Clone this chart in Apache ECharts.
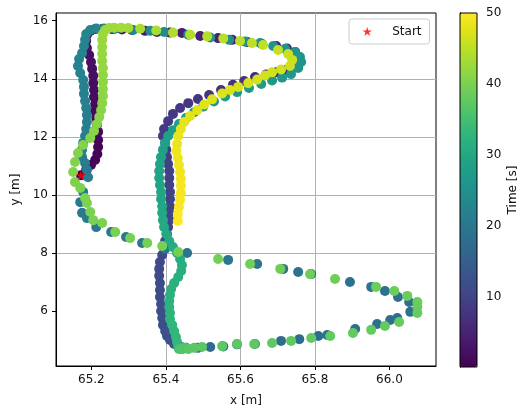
<!DOCTYPE html>
<html>
<head>
<meta charset="utf-8">
<script src="https://cdn.jsdelivr.net/npm/echarts@6/dist/echarts.min.js"></script>
<style>
  html, body { margin: 0; padding: 0; background: #fff; }
  #trajChart { width: 520px; height: 412px; }
</style>
</head>
<body>
<div id="trajChart"></div>
<script>
// trajectory samples (x [m], y [m], time [s])
const posX = [
  // lap 1: left side up
  65.172, 65.186, 65.199, 65.210, 65.216, 65.218, 65.218, 65.218, 65.215, 65.213, 65.210, 65.210,
  65.207, 65.207, 65.205, 65.205, 65.202, 65.199, 65.194, 65.188, 65.186, 65.188, 65.197, 65.210,
  // lap 1: top
  65.229, 65.256, 65.282, 65.309, 65.344, 65.376, 65.411, 65.443, 65.492, 65.540, 65.578, 65.618,
  65.658, 65.696, 65.725, 65.747, 65.758, 65.758,
  // lap 1: diagonal
  65.744, 65.723, 65.696, 65.669, 65.639, 65.610, 65.580, 65.548, 65.516, 65.486, 65.460, 65.438,
  65.419, 65.406, 65.395, 65.392,
  // lap 1: middle down
  65.398, 65.401, 65.403, 65.406, 65.409, 65.409, 65.409, 65.411, 65.411, 65.411, 65.409, 65.409,
  65.406, 65.403, 65.398, 65.395, 65.390, 65.384, 65.382, 65.382, 65.384, 65.384, 65.384, 65.387,
  65.387, 65.390, 65.392, 65.398, 65.403, 65.411, 65.422, 65.435,
  65.441, 65.438, 65.443, 65.441,
  // lap 1: bottom, tip, upper, curve
  65.454, 65.486, 65.519, 65.554, 65.591, 65.639, 65.709, 65.758, 65.809, 65.833, 65.908, 65.967,
  66.002, 66.021, 66.056, 66.053,
  66.023, 65.988, 65.951, 65.894, 65.790, 65.755, 65.715, 65.645, 65.567, 65.457, 65.398,
  65.336, 65.293, 65.253, 65.213, 65.188, 65.175, 65.170, 65.178,
  // lap 2: left side up
  65.191, 65.188, 65.183, 65.175, 65.175, 65.178, 65.183, 65.186, 65.188, 65.188, 65.186, 65.183,
  65.180, 65.180, 65.178, 65.170, 65.164, 65.167, 65.175, 65.180, 65.183, 65.186, 65.197, 65.213,
  // lap 2: top
  65.234, 65.264, 65.312, 65.358, 65.395, 65.460, 65.519, 65.570, 65.613, 65.653, 65.688, 65.720,
  65.747, 65.760, 65.763,
  // lap 2: diagonal
  65.755, 65.736, 65.712, 65.685, 65.656, 65.623, 65.591, 65.559, 65.529, 65.500, 65.476, 65.454,
  65.435, 65.419, 65.406,
  // lap 2: middle down
  65.398, 65.392, 65.387, 65.384, 65.382, 65.382, 65.384, 65.387, 65.387, 65.390, 65.390, 65.392,
  65.395, 65.401, 65.409, 65.419, 65.430, 65.438, 65.443, 65.441, 65.433, 65.422, 65.414, 65.411,
  65.409, 65.409, 65.411, 65.411, 65.417, 65.422, 65.427, 65.430, 65.433,
  65.438, 65.446, 65.435, 65.451, 65.441, 65.460,
  // lap 2: bottom, tip, upper, curve
  65.476, 65.497, 65.551, 65.591, 65.637, 65.685, 65.736, 65.790, 65.841, 65.902, 65.951, 65.988,
  66.026, 66.075, 66.075, 66.075, 66.048, 66.013, 65.964, 65.854, 65.787, 65.707, 65.626, 65.540,
  65.433, 65.390, 65.350, 65.304, 65.264, 65.229, 65.205, 65.197, 65.188, 65.183, 65.170, 65.156,
  65.151, 65.156, 65.164, 65.178,
  // lap 3: left side up
  65.197, 65.207, 65.215, 65.221, 65.226, 65.229, 65.231, 65.231, 65.231, 65.231, 65.231, 65.229,
  65.229, 65.229, 65.229, 65.231, 65.237, 65.248,
  // lap 3: top
  65.261, 65.280, 65.299, 65.331, 65.374, 65.419, 65.465, 65.511, 65.554, 65.599, 65.631, 65.661,
  65.701, 65.728, 65.739,
  // lap 3: diagonal
  65.733, 65.709, 65.685, 65.666, 65.645, 65.621, 65.594, 65.572, 65.551, 65.524, 65.503, 65.484,
  65.465, 65.449, 65.440, 65.433, 65.430,
  // lap 3: middle down
  65.428, 65.432, 65.435, 65.438, 65.440, 65.440, 65.440, 65.438, 65.435, 65.432, 65.432
];
const posY = [
  10.68, 10.86, 11.03, 11.20, 11.41, 11.65, 11.89, 12.17, 12.41, 12.65, 12.89, 13.13,
  13.37, 13.61, 13.85, 14.10, 14.34, 14.58, 14.82, 15.06, 15.30, 15.51, 15.65, 15.71,
  15.71, 15.71, 15.70, 15.68, 15.65, 15.61, 15.59, 15.58, 15.47, 15.40, 15.34, 15.27,
  15.20, 15.13, 15.04, 14.92, 14.75, 14.58,
  14.41, 14.30, 14.22, 14.15, 14.06, 13.92, 13.79, 13.61, 13.44, 13.30, 13.16, 12.99,
  12.79, 12.54, 12.27, 12.03,
  11.79, 11.55, 11.30, 11.06, 10.82, 10.58, 10.34, 10.10, 9.86, 9.61, 9.38, 9.13,
  8.89, 8.65, 8.41, 8.17, 7.93, 7.69, 7.45, 7.21, 6.96, 6.72, 6.48, 6.24,
  6.00, 5.76, 5.52, 5.31, 5.14, 5.00, 4.86, 4.76,
  4.73, 4.76, 4.73, 4.76,
  4.73, 4.73, 4.76, 4.78, 4.85, 4.86, 4.97, 5.03, 5.14, 5.17, 5.38, 5.55,
  5.69, 5.76, 5.97, 6.31,
  6.48, 6.69, 6.83, 7.00, 7.27, 7.34, 7.45, 7.62, 7.76, 8.00, 8.14,
  8.34, 8.55, 8.72, 8.89, 9.20, 9.38, 9.75, 10.10,
  10.61, 10.86, 11.10, 11.30, 11.55, 11.79, 12.03, 12.27, 12.51, 12.75, 12.99, 13.23,
  13.48, 13.72, 13.96, 14.20, 14.44, 14.68, 14.89, 15.13, 15.34, 15.54, 15.68, 15.73,
  15.73, 15.72, 15.68, 15.65, 15.61, 15.52, 15.42, 15.34, 15.28, 15.23, 15.13, 15.03,
  14.92, 14.75, 14.58,
  14.37, 14.16, 14.04, 13.94, 13.82, 13.68, 13.54, 13.39, 13.22, 13.04, 12.85, 12.65,
  12.44, 12.23, 12.03,
  11.79, 11.55, 11.30, 11.06, 10.82, 10.58, 10.34, 10.10, 9.86, 9.61, 9.38, 9.13,
  8.89, 8.65, 8.41, 8.20, 8.00, 7.79, 7.58, 7.38, 7.17, 6.96, 6.76, 6.55,
  6.34, 6.14, 5.93, 5.72, 5.52, 5.31, 5.10, 4.93, 4.79,
  4.73, 4.69, 4.69, 4.73, 4.69, 4.69,
  4.73, 4.76, 4.79, 4.86, 4.86, 4.90, 4.97, 5.07, 5.14, 5.24, 5.35, 5.48,
  5.62, 5.93, 6.14, 6.31, 6.52, 6.69, 6.83, 7.10, 7.27, 7.45, 7.62, 7.79,
  8.03, 8.24, 8.34, 8.51, 8.72, 9.03, 9.13, 9.41, 9.72, 9.89, 10.24, 10.44,
  10.79, 11.13, 11.44, 11.72,
  11.96, 12.20, 12.44, 12.68, 12.92, 13.16, 13.41, 13.65, 13.89, 14.13, 14.37, 14.61,
  14.85, 15.09, 15.34, 15.54, 15.68, 15.75,
  15.76, 15.76, 15.75, 15.72, 15.66, 15.59, 15.52, 15.46, 15.39, 15.30, 15.23, 15.16,
  14.99, 14.85, 14.65,
  14.44, 14.32, 14.22, 14.11, 13.97, 13.85, 13.72, 13.61, 13.49, 13.29, 13.11, 12.92,
  12.72, 12.51, 12.27, 12.03, 11.75,
  11.51, 11.27, 11.03, 10.79, 10.55, 10.31, 10.06, 9.82, 9.58, 9.34, 9.10
];
const timeS = [
  0.1, 0.23, 0.35, 0.48, 0.6, 0.73, 0.85, 0.98, 1.1, 1.23, 1.35, 1.48,
  1.6, 1.73, 1.85, 1.98, 2.1, 2.23, 2.35, 2.48, 2.6, 2.73, 2.85, 2.98,
  3.1, 3.3, 3.45, 3.6, 3.8, 3.95, 4.15, 4.3, 4.5, 4.65, 4.85, 5.0,
  5.2, 5.35, 5.55, 5.7, 5.9, 6.1,
  6.4, 6.55, 6.7, 6.85, 7.0, 7.2, 7.35, 7.5, 7.7, 7.85, 8.0, 8.2,
  8.35, 8.5, 8.7, 8.85,
  9.0, 9.1, 9.25, 9.35, 9.45, 9.6, 9.7, 9.8, 9.95, 10.05, 10.15, 10.3,
  10.4, 10.5, 10.6, 10.75, 10.85, 10.95, 11.1, 11.2, 11.3, 11.45, 11.55, 11.65,
  11.8, 11.9, 12.0, 12.15, 12.25, 12.35, 12.5, 12.6,
  13.5, 14.5, 15.5, 16.4,
  17.0, 17.1, 17.2, 17.3, 17.4, 17.5, 17.65, 17.75, 17.85, 17.9, 18.05, 18.15,
  18.25, 18.3, 18.4, 18.5,
  18.6, 18.7, 18.8, 18.9, 19.05, 19.1, 19.2, 19.3, 19.45, 19.6, 19.7,
  19.8, 19.9, 20.0, 20.1, 20.2, 20.3, 20.4, 20.5,
  20.6, 20.7, 20.8, 20.9, 21.0, 21.1, 21.2, 21.3, 21.4, 21.5, 21.6, 21.7,
  21.8, 21.9, 22.0, 22.1, 22.2, 22.3, 22.4, 22.5, 22.6, 22.7, 22.8, 22.9,
  23.1, 23.3, 23.5, 23.7, 23.9, 24.15, 24.4, 24.65, 24.85, 25.05, 25.25, 25.45,
  25.65, 25.85, 26.0,
  26.2, 26.35, 26.5, 26.65, 26.8, 26.95, 27.1, 27.25, 27.4, 27.55, 27.7, 27.85,
  28.0, 28.15, 28.3,
  28.5, 28.65, 28.8, 28.95, 29.1, 29.25, 29.4, 29.55, 29.7, 29.85, 30.0, 30.15,
  30.3, 30.45, 30.6, 30.75, 30.9, 31.05, 31.2, 31.35, 31.5, 31.65, 31.8, 31.95,
  32.1, 32.25, 32.4, 32.55, 32.7, 32.85, 33.0, 33.15, 33.3,
  33.6, 34.3, 35.0, 35.7, 36.3, 36.8,
  37.0, 37.1, 37.2, 37.3, 37.4, 37.5, 37.6, 37.7, 37.8, 37.9, 38.0, 38.1,
  38.2, 38.3, 38.4, 38.5, 38.6, 38.7, 38.8, 38.95, 39.05, 39.15, 39.3, 39.4,
  39.55, 39.6, 39.7, 39.8, 39.9, 40.0, 40.05, 40.1, 40.2, 40.25, 40.35, 40.4,
  40.5, 40.6, 40.7, 40.8,
  40.9, 41.0, 41.1, 41.2, 41.3, 41.4, 41.5, 41.6, 41.7, 41.8, 41.9, 42.0,
  42.1, 42.2, 42.35, 42.5, 42.65, 42.8,
  42.95, 43.1, 43.25, 43.45, 43.7, 43.95, 44.2, 44.45, 44.7, 44.95, 45.15, 45.35,
  45.6, 45.8, 46.0,
  46.15, 46.3, 46.45, 46.55, 46.7, 46.85, 47.0, 47.15, 47.3, 47.5, 47.65, 47.8,
  47.95, 48.1, 48.25, 48.4, 48.55,
  48.65, 48.8, 48.9, 49.05, 49.15, 49.3, 49.4, 49.55, 49.7, 49.85, 50.0
];
const startXY = [65.172, 10.68];

const xTicks = [65.2, 65.4, 65.6, 65.8, 66.0];
const yTicks = [6, 8, 10, 12, 14, 16];
const timeTicks = [10, 20, 30, 40, 50];

const viridis = [
  '#440154', '#471365', '#482475', '#463480', '#414487', '#3b528b', '#355f8d',
  '#2f6c8e', '#2a788e', '#25848e', '#21918c', '#1e9c89', '#22a884', '#2fb47c',
  '#44bf70', '#5ec962', '#7ad151', '#9bd93c', '#bddf26', '#dfe318', '#fde725'
];
const STAR = 'path://M50,0L61.2,34.5L97.6,34.5L68.2,55.9L79.4,90.5L50,69.1L20.6,90.5L31.8,55.9L2.4,34.5L38.8,34.5Z';
const FONT = 'DejaVu Sans';
const INK = '#111';

const points = posX.map((x, i) => [x, posY[i], timeS[i]]);

const chart = echarts.init(document.getElementById('trajChart'));
chart.setOption({
  animation: false,
  textStyle: { fontFamily: FONT },
  grid: [
    { left: 56, top: 13, width: 380, height: 353, show: true, borderColor: '#000', borderWidth: 1, backgroundColor: 'transparent' },
    { left: 460, top: 13, width: 17, height: 354, show: true, borderColor: '#000', borderWidth: 1, backgroundColor: 'transparent', z: 10 }
  ],
  xAxis: [
    {
      type: 'value', gridIndex: 0, min: 65.105, max: 66.125, splitNumber: 5,
      name: 'x [m]', nameLocation: 'middle', nameGap: 29,
      nameTextStyle: { color: INK, fontSize: 12, fontFamily: FONT },
      axisLine: { show: true, lineStyle: { color: '#000', width: 1 } },
      axisTick: { show: true, length: 4, customValues: xTicks, lineStyle: { color: '#000', width: 1 } },
      axisLabel: { customValues: xTicks, formatter: v => v.toFixed(1), margin: 8, color: INK, fontSize: 12, fontFamily: FONT },
      splitLine: { show: true, showMinLine: false, showMaxLine: false, lineStyle: { color: '#b0b0b0', width: 1 } }
    },
    { type: 'value', gridIndex: 1, min: 0, max: 1, show: false }
  ],
  yAxis: [
    {
      type: 'value', gridIndex: 0, min: 4.105, max: 16.265, splitNumber: 5,
      name: 'y [m]', nameLocation: 'middle', nameGap: 30,
      nameTextStyle: { color: INK, fontSize: 12, fontFamily: FONT },
      axisLine: { show: true, lineStyle: { color: '#000', width: 1 } },
      axisTick: { show: true, length: 4, customValues: yTicks, lineStyle: { color: '#000', width: 1 } },
      axisLabel: { customValues: yTicks, formatter: v => String(v), margin: 8, color: INK, fontSize: 12, fontFamily: FONT },
      splitLine: { show: true, showMinLine: false, showMaxLine: false, lineStyle: { color: '#b0b0b0', width: 1 } }
    },
    {
      type: 'value', gridIndex: 1, position: 'right', min: 0.1, max: 50,
      name: 'Time [s]', nameLocation: 'middle', nameGap: 30, nameRotate: 90,
      nameTextStyle: { color: INK, fontSize: 12, fontFamily: FONT },
      axisLine: { show: true, lineStyle: { color: '#000', width: 1 } },
      axisTick: { show: true, length: 4, customValues: timeTicks, lineStyle: { color: '#000', width: 1 } },
      axisLabel: { customValues: timeTicks, margin: 9, color: INK, fontSize: 12, fontFamily: FONT },
      splitLine: { show: false }
    }
  ],
  visualMap: {
    type: 'continuous',
    seriesIndex: 0,
    dimension: 2,
    min: 0.1,
    max: 50,
    calculable: false,
    orient: 'vertical',
    left: 460,
    top: 13,
    padding: 0,
    itemWidth: 17,
    itemHeight: 354,
    inRange: { color: viridis }
  },
  legend: {
    data: [{ name: 'Start', icon: STAR }],
    left: 349,
    top: 19,
    orient: 'vertical',
    itemWidth: 40,
    itemHeight: 9,
    padding: [6.5, 8, 6.5, 13.5],
    backgroundColor: 'rgba(255,255,255,0.8)',
    borderColor: '#cccccc',
    borderWidth: 1,
    borderRadius: 3,
    selectedMode: false,
    textStyle: { color: INK, fontSize: 12, fontFamily: FONT }
  },
  series: [
    {
      name: 'trajectory',
      type: 'scatter',
      xAxisIndex: 0,
      yAxisIndex: 0,
      symbolSize: 10,
      data: points,
      itemStyle: { opacity: 1 },
      emphasis: { disabled: true }
    },
    {
      name: 'Start',
      type: 'scatter',
      xAxisIndex: 0,
      yAxisIndex: 0,
      symbol: STAR,
      symbolSize: 10,
      z: 5,
      data: [startXY],
      itemStyle: { color: '#ff0000' },
      emphasis: { disabled: true }
    }
  ]
});
</script>
</body>
</html>
